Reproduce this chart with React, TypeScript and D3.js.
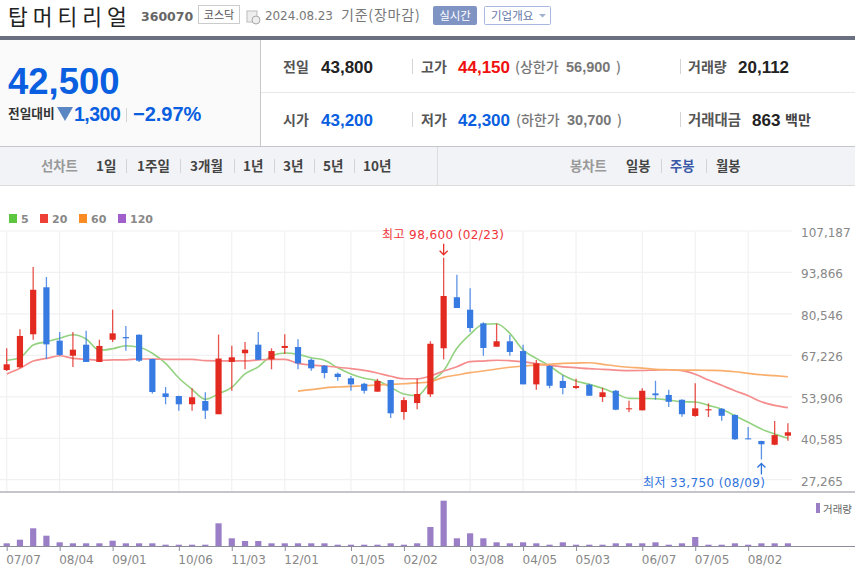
// App.tsx
import React, {useEffect, useRef} from "react";
import * as d3 from "d3";

const weeks = [
    "07/07", "07/14", "07/21", "07/28", "08/04", "08/11", "08/18", "08/25", "09/01", "09/08",
    "09/15", "09/22", "09/27", "10/06", "10/13", "10/20", "10/27", "11/03", "11/10", "11/17",
    "11/24", "12/01", "12/08", "12/15", "12/22", "12/28", "01/05", "01/12", "01/19", "01/26",
    "02/02", "02/08", "02/16", "02/23", "02/29", "03/08", "03/15", "03/22", "03/29", "04/05",
    "04/12", "04/19", "04/26", "05/03", "05/10", "05/17", "05/24", "05/31", "06/07", "06/14",
    "06/21", "06/28", "07/05", "07/12", "07/19", "07/26", "08/02", "08/09", "08/16", "08/23",
];
const tickWeeks = [
    "07/07", "08/04", "09/01", "10/06", "11/03", "12/01", "01/05",
    "02/02", "03/08", "04/05", "05/03", "06/07", "07/05", "08/02",
];
const priceTicks = [107187, 93866, 80546, 67226, 53906, 40585, 27265];

const opens = [
    62500, 63400, 74000, 89100, 71950, 67100, 70650, 65100, 72250, 73100,
    73850, 66050, 55000, 54150, 51500, 52550, 48300, 65100, 67900, 70650,
    65950, 69600, 69900, 65800, 63900, 61300, 59850, 58100, 55550, 59300,
    49000, 51900, 54700, 69500, 85900, 81900, 77500, 70000, 71750, 68600,
    57900, 63800, 59000, 56750, 57800, 53850, 55850, 49900, 49550, 55000,
    54500, 52950, 47750, 49550, 50050, 48050, 40550, 39700, 38500, 41400,
];
const highs = [
    69500, 75600, 95600, 92400, 74750, 74750, 75150, 72250, 81900, 76650,
    74000, 66150, 57050, 54250, 56650, 55350, 73900, 70300, 71500, 74750,
    69500, 74000, 72400, 66250, 64100, 61750, 60600, 58450, 59700, 59400,
    53750, 59700, 71750, 98600, 93150, 88750, 77850, 77400, 73750, 70650,
    65700, 64100, 60800, 59700, 58100, 56800, 56100, 52650, 56650, 59050,
    56200, 53100, 58250, 51800, 50300, 48300, 44200, 39800, 46100, 45400,
];
const lows = [
    62200, 63050, 72250, 66050, 67100, 63500, 65100, 65100, 71500, 68700,
    65100, 55000, 51500, 49450, 49450, 46750, 48300, 55850, 62750, 65800,
    62750, 67650, 62750, 62300, 59850, 59050, 55850, 55000, 55550, 47100,
    46550, 49900, 53850, 65950, 82450, 74750, 67100, 70000, 67100, 57900,
    56200, 56650, 54700, 56400, 54250, 52250, 49550, 49000, 49550, 52950,
    50600, 47500, 47500, 47400, 46200, 40000, 40250, 33750, 38300, 39800,
];
const closes = [
    64350, 73450, 88300, 70750, 67350, 69050, 65100, 70250, 74300, 72700,
    65500, 55450, 53850, 51500, 53750, 49450, 66200, 66600, 69050, 65800,
    68600, 70250, 64650, 63050, 61550, 60250, 57900, 55850, 59000, 48600,
    52850, 54800, 70950, 86300, 82450, 76000, 69600, 71750, 68300, 57900,
    64650, 57450, 56750, 57350, 54250, 55350, 49750, 50200, 55850, 54400,
    52300, 48300, 50200, 49900, 47800, 40250, 40350, 38650, 41600, 42500,
];
const ma5 = [
    65650, 66450, 70550, 71600, 72700, 73850, 72500, 68850, 69350, 70300,
    69800, 67900, 64650, 59950, 56300, 53100, 54850, 56950, 61250, 63550,
    67100, 68000, 67550, 66450, 65650, 63250, 61250, 59850, 59050, 56950,
    54800, 54250, 58650, 62300, 69500, 74000, 77200, 77400, 74300, 68950,
    66250, 63800, 60900, 59000, 57900, 56650, 55000, 53400, 53350, 53300,
    52850, 52300, 52250, 51150, 49900, 47800, 45700, 43550, 41950, 40550,
];
const ma20 = [
    61250, 63050, 65400, 66250, 67100, 66250, 65950, 65650, 65750, 65800,
    66050, 66050, 65950, 65950, 65950, 65500, 65450, 65450, 65450, 65750,
    65950, 65950, 64650, 64100, 63800, 63400, 62950, 62400, 61550, 60500,
    59700, 59700, 60600, 62200, 63550, 65200, 65400, 65650, 65500, 65200,
    64550, 64000, 63550, 63250, 62950, 62750, 62500, 62300, 62350, 62500,
    62600, 62300, 61150, 59300, 57600, 55850, 54250, 52300, 51150, 50400,
];
// the 60 week line only starts part way through the chart
const ma60Start = 22;
const ma60 = [
    55750, 56200, 56800, 57050, 57250, 57450, 57700, 57900, 58100, 58350,
    58800, 60150, 60900, 61650, 62200, 62850, 63400, 63800, 64100, 64350,
    64650, 64750, 64850, 64350, 63800, 63400, 63150, 62750, 62600, 62500,
    62500, 62400, 62300, 61950, 61450, 61000, 60700, 60350,
];
const volumes = [
    27, 63, 177, 103, 37, 27, 27, 27, 53, 27,
    27, 27, 13, 13, 13, 13, 227, 77, 50, 50,
    27, 27, 27, 27, 27, 13, 13, 13, 13, 27,
    13, 27, 190, 453, 77, 127, 77, 37, 27, 37,
    27, 13, 37, 13, 13, 13, 27, 27, 27, 37,
    13, 27, 90, 13, 13, 27, 13, 27, 27, 27,
];

const legendItems = [
    {label: "5", color: "#5cc63f", x: 9},
    {label: "20", color: "#ef4038", x: 40},
    {label: "60", color: "#fb8c24", x: 79},
    {label: "120", color: "#a05fcb", x: 118},
];
const lineFont = "'DejaVu Sans', sans-serif";
const korFont = "'Noto Sans CJK KR', sans-serif";
const numFont = "'Liberation Sans', Arial, sans-serif";
const noteFont = "'DejaVu Sans', 'Noto Sans CJK KR', sans-serif";

const Chart: React.FC = () => {
    const ref = useRef<SVGGElement | null>(null);

    useEffect(() => {
        if (!ref.current) return;
        const g = d3.select(ref.current);
        g.selectAll("*").remove();

        const x = d3.scalePoint<string>().domain(weeks).range([6.7, 787.9]);
        const y = d3.scaleLinear().domain([27265, 107187]).range([479.7, 231]);
        const vol = d3.scaleLinear().domain([0, 453]).range([546, 500.7]);
        const xAt = (i: number) => x(weeks[i]) as number;

        // grid
        g.append("g").selectAll("line").data(priceTicks).enter().append("line")
            .attr("x1", 0).attr("x2", 792)
            .attr("y1", (d) => y(d)).attr("y2", (d) => y(d))
            .attr("stroke", "#f1f1f3").attr("stroke-width", 1.2);
        g.append("g").selectAll("line").data(tickWeeks).enter().append("line")
            .attr("x1", (d) => x(d) as number).attr("x2", (d) => x(d) as number)
            .attr("y1", 231).attr("y2", 491)
            .attr("stroke", "#f1f1f3").attr("stroke-width", 1.2);

        // price axis
        const yAxis = g.append("g")
            .attr("transform", "translate(793,1.5)")
            .call(d3.axisRight(y).tickValues(priceTicks).tickSize(0).tickPadding(8).tickFormat(d3.format(",") as any));
        yAxis.select(".domain").remove();
        yAxis.selectAll("text")
            .style("font-family", lineFont).style("font-size", "12px").attr("fill", "#888");

        // moving averages
        const line = d3.line<number>()
            .x((_, i) => xAt(i))
            .y((d) => y(d))
            .curve(d3.curveMonotoneX);
        g.append("path").attr("d", line(ma5)).attr("fill", "none")
            .attr("stroke", "#93d27f").attr("stroke-width", 1.6);
        g.append("path").attr("d", line(ma20)).attr("fill", "none")
            .attr("stroke", "#f58d8d").attr("stroke-width", 1.7);
        const line60 = d3.line<number>()
            .x((_, i) => xAt(i + ma60Start))
            .y((d) => y(d))
            .curve(d3.curveMonotoneX);
        g.append("path").attr("d", line60(ma60)).attr("fill", "none")
            .attr("stroke", "#f9ae6c").attr("stroke-width", 1.7);

        // candles
        const colorAt = (i: number) => (closes[i] >= opens[i] ? "#e32a20" : "#367ae2");
        const candles = g.append("g").selectAll("g").data(weeks).enter().append("g");
        candles.append("line")
            .attr("x1", (d) => x(d) as number).attr("x2", (d) => x(d) as number)
            .attr("y1", (_, i) => y(highs[i])).attr("y2", (_, i) => y(lows[i]))
            .attr("stroke", (_, i) => colorAt(i)).attr("stroke-width", 1.3).attr("opacity", 0.8);
        candles.append("rect")
            .attr("x", (d) => (x(d) as number) - 3.1).attr("width", 6.2)
            .attr("y", (_, i) => y(Math.max(opens[i], closes[i])))
            .attr("height", (_, i) => Math.max(1, y(Math.min(opens[i], closes[i])) - y(Math.max(opens[i], closes[i]))))
            .attr("fill", (_, i) => colorAt(i));

        // high / low marks
        const hiX = xAt(33);
        g.append("path")
            .attr("d", `M${hiX},${y(98600) - 14}V${y(98600) - 3}M${hiX - 4},${y(98600) - 7}L${hiX},${y(98600) - 3}L${hiX + 4},${y(98600) - 7}`)
            .attr("fill", "none").attr("stroke", "#e8332b").attr("stroke-width", 1.3);
        g.append("text").attr("x", 382).attr("y", 238.5)
            .style("font-family", noteFont).style("font-size", "12px").style("letter-spacing", "0.4px").attr("fill", "#f0353b")
            .text("최고 98,600 (02/23)");
        const loX = xAt(57);
        g.append("path")
            .attr("d", `M${loX},${y(33750) + 15}V${y(33750) + 4}M${loX - 4},${y(33750) + 8}L${loX},${y(33750) + 4}L${loX + 4},${y(33750) + 8}`)
            .attr("fill", "none").attr("stroke", "#2f74dd").attr("stroke-width", 1.3);
        g.append("text").attr("x", 643).attr("y", 487)
            .style("font-family", noteFont).style("font-size", "12px").style("letter-spacing", "0.4px").attr("fill", "#2f74dd")
            .text("최저 33,750 (08/09)");

        // divider between price and volume
        g.append("line").attr("x1", 0).attr("x2", 855).attr("y1", 492).attr("y2", 492)
            .attr("stroke", "#8b8d99").attr("stroke-width", 1);

        // volume
        g.append("g").selectAll("rect").data(volumes).enter().append("rect")
            .attr("x", (_, i) => xAt(i) - 3.1).attr("width", 6.2)
            .attr("y", (d) => vol(d)).attr("height", (d) => vol(0) - vol(d))
            .attr("fill", "#9a7fc7");

        const xAxis = g.append("g")
            .attr("transform", "translate(0,546)")
            .call(d3.axisBottom(x).tickValues(tickWeeks).tickSize(5).tickPadding(4));
        xAxis.select(".domain").attr("d", "M0,0.5H855").attr("stroke", "#8b8d99");
        xAxis.selectAll(".tick line").attr("stroke", "#8b8d99");
        xAxis.selectAll("text")
            .attr("text-anchor", "start").attr("x", -1)
            .style("font-family", lineFont).style("font-size", "12px").attr("fill", "#888");
    }, []);

    return <g ref={ref} />;
};

const Sep = ({x, y1, y2}: {x: number; y1: number; y2: number}) => (
    <line x1={x} x2={x} y1={y1} y2={y2} stroke="#d4d4d4" />
);

const Label = ({x, y, children, fill = "#555", size = 14, weight = 700}: any) => (
    <text x={x} y={y} fill={fill} fontSize={size} fontWeight={weight} fontFamily={korFont}>{children}</text>
);

const Num = ({x, y, children, fill = "#222", size = 17, weight = 700, spacing = 0}: any) => (
    <text x={x} y={y} fill={fill} fontSize={size} fontWeight={weight} fontFamily={numFont} letterSpacing={spacing}>{children}</text>
);

export default function App() {
    const blue = "#0a5fe0";
    return (
        <svg width={855} height={567} viewBox="0 0 855 567"
             style={{position: "absolute", left: 0, top: 0, display: "block", background: "#fff"}}>
            {/* title row */}
            <text x={8} y={25} fontSize={21.5} fontFamily={korFont} fill="#222" letterSpacing={5}>탑머티리얼</text>
            <text x={141} y={21} fontSize={12.5} fontWeight={700} fontFamily={lineFont} fill="#666">360070</text>
            <rect x={198.5} y={5.5} width={41} height={18} fill="#fff" stroke="#ccc" />
            <text x={219} y={19} fontSize={11} fontFamily={korFont} fill="#555" textAnchor="middle">코스닥</text>
            <rect x={247} y={11} width={10} height={11} fill="#eee" stroke="#bbb" />
            <circle cx={256} cy={20} r={4} fill="#eee" stroke="#aaa" />
            <text x={265} y={20} fontSize={12} fontFamily={lineFont} fill="#777" textLength={68}>2024.08.23</text>
            <text x={341} y={20} fontSize={14} fontFamily={korFont} fill="#777" letterSpacing={0.8}>기준(장마감)</text>
            <rect x={433} y={6} width={44} height={19} rx={2} fill="#8094c4" />
            <text x={455} y={20} fontSize={11.5} fontFamily={korFont} fill="#fff" textAnchor="middle">실시간</text>
            <rect x={484.5} y={6.5} width={66} height={18} rx={1} fill="#fff" stroke="#a8b8e0" />
            <text x={491} y={20} fontSize={11.5} fontFamily={korFont} fill="#6577a8">기업개요</text>
            <path d="M539,14h7l-3.5,3.5z" fill="#a0b0d0" />

            {/* quote panel */}
            <rect x={0} y={36} width={855} height={4} fill="#6b7080" />
            <rect x={0} y={40} width={260} height={106} fill="#fafafa" />
            <line x1={260.5} x2={260.5} y1={40} y2={146} stroke="#c8c8cc" />
            <line x1={261} x2={855} y1={92.5} y2={92.5} stroke="#e8e8e8" />
            <Num x={8} y={94} fill={blue} size={36.5}>42,500</Num>
            <Label x={8} y={118} fill="#333" size={12.7}>전일대비</Label>
            <path d="M57,107h16l-8,14z" fill="#5b86c4" />
            <Num x={74} y={121} fill={blue} size={19.5} spacing={-0.5}>1,300</Num>
            <Sep x={126.5} y1={108} y2={122} />
            <Num x={133} y={121} fill={blue} size={20}>−2.97%</Num>

            <Label x={283} y={72}>전일</Label>
            <Num x={321} y={73}>43,800</Num>
            <Sep x={412.5} y1={59} y2={74} />
            <Label x={421} y={72}>고가</Label>
            <Num x={458} y={73} fill="#f01010">44,150</Num>
            <Label x={515} y={72} fill="#777" weight={500}>(상한가</Label>
            <Num x={566} y={72} fill="#777" size={14.5}>56,900</Num>
            <Label x={616} y={72} fill="#777" weight={500}>)</Label>
            <Sep x={680.5} y1={59} y2={74} />
            <Label x={688} y={72}>거래량</Label>
            <Num x={738} y={73}>20,112</Num>

            <Label x={283} y={125}>시가</Label>
            <Num x={321} y={126} fill={blue}>43,200</Num>
            <Sep x={412.5} y1={112} y2={127} />
            <Label x={421} y={125}>저가</Label>
            <Num x={458} y={126} fill={blue}>42,300</Num>
            <Label x={516} y={125} fill="#777" weight={500}>(하한가</Label>
            <Num x={567} y={125} fill="#777" size={14.5}>30,700</Num>
            <Label x={617} y={125} fill="#777" weight={500}>)</Label>
            <Sep x={680.5} y1={112} y2={127} />
            <Label x={688} y={125} size={14.4}>거래대금</Label>
            <Num x={752} y={126}>863</Num>
            <Label x={785} y={125} fill="#444">백만</Label>

            {/* period tabs */}
            <rect x={0} y={146} width={855} height={39} fill="#f2f3f7" />
            <line x1={0} x2={855} y1={146.5} y2={146.5} stroke="#c4c6cc" />
            <line x1={0} x2={855} y1={185.5} y2={185.5} stroke="#dcdcdc" />
            <line x1={437.5} x2={437.5} y1={147} y2={185} stroke="#ddd" />
            <Label x={41} y={171} fill="#999" size={13.3}>선차트</Label>
            <Label x={96} y={171} fill="#444" size={13.5}>1일</Label>
            <Label x={137} y={171} fill="#444" size={13.5}>1주일</Label>
            <Label x={190} y={171} fill="#444" size={13.5}>3개월</Label>
            <Label x={243} y={171} fill="#444" size={13.5}>1년</Label>
            <Label x={283} y={171} fill="#444" size={13.5}>3년</Label>
            <Label x={323} y={171} fill="#444" size={13.5}>5년</Label>
            <Label x={363} y={171} fill="#444" size={13.5}>10년</Label>
            {[126, 180, 234, 274, 314, 354, 661, 706].map((sx) => (
                <Sep key={sx} x={sx + 0.5} y1={159} y2={173} />
            ))}
            <Label x={570} y={171} fill="#999" size={13.3}>봉차트</Label>
            <Label x={626} y={171} fill="#444" size={13.3}>일봉</Label>
            <Label x={670} y={171} fill="#3a5aa8" size={13.3}>주봉</Label>
            <Label x={716} y={171} fill="#444" size={13.3}>월봉</Label>

            {/* legend */}
            {legendItems.map((d) => (
                <g key={d.label}>
                    <rect x={d.x} y={214} width={8} height={9} fill={d.color} />
                    <text x={d.x + 12} y={223} fontSize={11} fontWeight={700} fontFamily={lineFont} fill="#888">{d.label}</text>
                </g>
            ))}
            <rect x={816} y={503} width={4} height={10} fill="#9a7fc7" />
            <text x={823} y={513} fontSize={10.5} fontFamily={korFont} fill="#666">거래량</text>

            <Chart />
        </svg>
    );
}
